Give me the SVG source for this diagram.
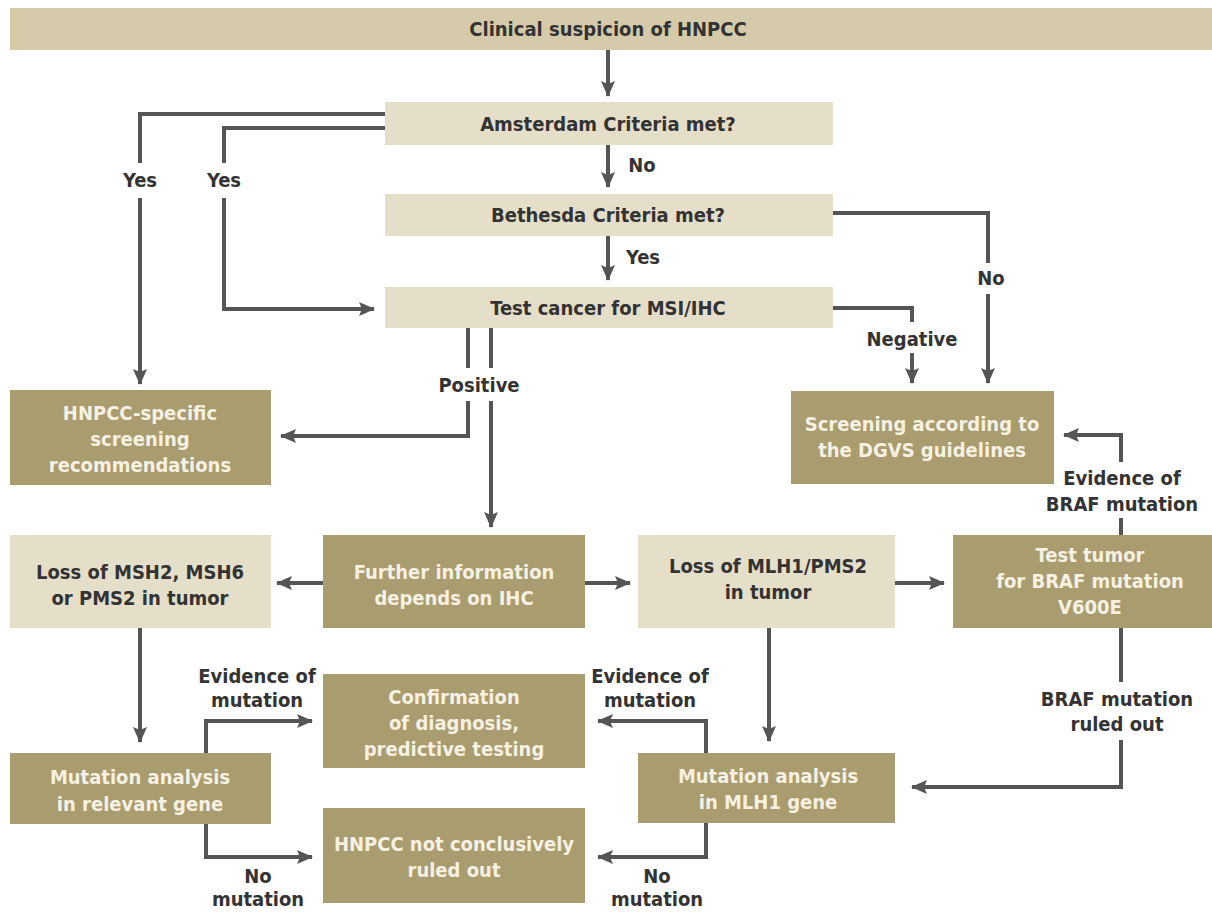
<svg xmlns="http://www.w3.org/2000/svg" width="1212" height="912" viewBox="0 0 1212 912">
<style>
.t{font-family:"Liberation Sans Narrow","DejaVu Sans Condensed","Liberation Sans",sans-serif;font-weight:bold;font-size:20px;text-anchor:middle}
.dk{fill:#333}
.wt{fill:#f6f1e2}
.lb{fill:#e5dec9}
.bar{fill:#d5cbab}
.dbx{fill:#a99c6e}
.c{fill:none;stroke:#555;stroke-width:4}
</style>
<defs>
<marker id="ah" markerUnits="userSpaceOnUse" markerWidth="16" markerHeight="14" refX="15" refY="7" orient="auto">
<path d="M0,0 L16,7 L0,14 L3,7 z" fill="#555"/>
</marker>
</defs>
<rect width="1212" height="912" fill="#fff"/>
<g id="n-clinical"><rect class="bar" x="10" y="8" width="1202" height="42"/><text class="t dk" x="608" y="36">Clinical suspicion of HNPCC</text></g>
<g id="n-amsterdam"><rect class="lb" x="385" y="102" width="448" height="43"/><text class="t dk" x="608" y="131">Amsterdam Criteria met?</text></g>
<g id="n-bethesda"><rect class="lb" x="385" y="194" width="448" height="42"/><text class="t dk" x="608" y="222">Bethesda Criteria met?</text></g>
<g id="n-test"><rect class="lb" x="385" y="287" width="448" height="41"/><text class="t dk" x="608" y="315">Test cancer for MSI/IHC</text></g>
<g id="n-hnpccspec"><rect class="dbx" x="10" y="390" width="261" height="95"/><text class="t wt" x="140" y="420">HNPCC-specific</text><text class="t wt" x="140" y="446">screening</text><text class="t wt" x="140" y="472">recommendations</text></g>
<g id="n-screening"><rect class="dbx" x="791" y="391" width="263" height="93"/><text class="t wt" x="922" y="431">Screening according to</text><text class="t wt" x="922" y="457">the DGVS guidelines</text></g>
<g id="n-msh2"><rect class="lb" x="10" y="535" width="261" height="93"/><text class="t dk" x="140" y="579">Loss of MSH2, MSH6</text><text class="t dk" x="140" y="605">or PMS2 in tumor</text></g>
<g id="n-further"><rect class="dbx" x="323" y="535" width="262" height="93"/><text class="t wt" x="454" y="579">Further information</text><text class="t wt" x="454" y="605">depends on IHC</text></g>
<g id="n-mlh1"><rect class="lb" x="638" y="535" width="257" height="93"/><text class="t dk" x="768" y="573">Loss of MLH1/PMS2</text><text class="t dk" x="768" y="599">in tumor</text></g>
<g id="n-braf"><rect class="dbx" x="953" y="535" width="259" height="93"/><text class="t wt" x="1090" y="562">Test tumor</text><text class="t wt" x="1090" y="588">for BRAF mutation</text><text class="t wt" x="1090" y="614">V600E</text></g>
<g id="n-confirm"><rect class="dbx" x="323" y="674" width="262" height="94"/><text class="t wt" x="454" y="704">Confirmation</text><text class="t wt" x="454" y="730">of diagnosis,</text><text class="t wt" x="454" y="756">predictive testing</text></g>
<g id="n-relevant"><rect class="dbx" x="10" y="753" width="261" height="71"/><text class="t wt" x="140" y="784">Mutation analysis</text><text class="t wt" x="140" y="811">in relevant gene</text></g>
<g id="n-mlh1gene"><rect class="dbx" x="638" y="753" width="257" height="70"/><text class="t wt" x="768" y="783">Mutation analysis</text><text class="t wt" x="768" y="809">in MLH1 gene</text></g>
<g id="n-notruled"><rect class="dbx" x="323" y="808" width="262" height="95"/><text class="t wt" x="454" y="851">HNPCC not conclusively</text><text class="t wt" x="454" y="877">ruled out</text></g>
<g id="connectors">
<path class="c" d="M608,50 V96" marker-end="url(#ah)"/>
<path class="c" d="M608,145 V187" marker-end="url(#ah)"/>
<path class="c" d="M608,236 V280" marker-end="url(#ah)"/>
<path class="c" d="M385,114 H140 V163"/>
<path class="c" d="M140,198 V384" marker-end="url(#ah)"/>
<path class="c" d="M385,128 H224 V163"/>
<path class="c" d="M224,198 V309 H374" marker-end="url(#ah)"/>
<path class="c" d="M833,213 H988 V263"/>
<path class="c" d="M988,294 V383" marker-end="url(#ah)"/>
<path class="c" d="M833,308 H912 V322"/>
<path class="c" d="M912,353 V383" marker-end="url(#ah)"/>
<path class="c" d="M468,328 V368"/>
<path class="c" d="M468,401 V436 H281" marker-end="url(#ah)"/>
<path class="c" d="M491,328 V368"/>
<path class="c" d="M491,401 V527" marker-end="url(#ah)"/>
<path class="c" d="M323,583 H277" marker-end="url(#ah)"/>
<path class="c" d="M585,583 H630" marker-end="url(#ah)"/>
<path class="c" d="M895,583 H944" marker-end="url(#ah)"/>
<path class="c" d="M140,628 V742" marker-end="url(#ah)"/>
<path class="c" d="M769,628 V741" marker-end="url(#ah)"/>
<path class="c" d="M206,753 V721 H312" marker-end="url(#ah)"/>
<path class="c" d="M206,824 V857 H312" marker-end="url(#ah)"/>
<path class="c" d="M706,753 V721 H598" marker-end="url(#ah)"/>
<path class="c" d="M706,823 V857 H598" marker-end="url(#ah)"/>
<path class="c" d="M1121,628 V682"/>
<path class="c" d="M1121,740 V787 H912" marker-end="url(#ah)"/>
<path class="c" d="M1121,535 V518"/>
<path class="c" d="M1121,462 V435 H1064" marker-end="url(#ah)"/>
<text class="t dk" x="642" y="172">No</text>
<text class="t dk" x="643" y="264">Yes</text>
<text class="t dk" x="140" y="187">Yes</text>
<text class="t dk" x="224" y="187">Yes</text>
<text class="t dk" x="991" y="285">No</text>
<text class="t dk" x="912" y="346">Negative</text>
<text class="t dk" x="479" y="392">Positive</text>
<text class="t dk" x="1122" y="485">Evidence of</text>
<text class="t dk" x="1122" y="511">BRAF mutation</text>
<text class="t dk" x="257" y="683">Evidence of</text>
<text class="t dk" x="257" y="707">mutation</text>
<text class="t dk" x="258" y="883">No</text>
<text class="t dk" x="258" y="906">mutation</text>
<text class="t dk" x="650" y="683">Evidence of</text>
<text class="t dk" x="650" y="707">mutation</text>
<text class="t dk" x="657" y="883">No</text>
<text class="t dk" x="657" y="906">mutation</text>
<text class="t dk" x="1117" y="706">BRAF mutation</text>
<text class="t dk" x="1117" y="731">ruled out</text>
</g>
</svg>
